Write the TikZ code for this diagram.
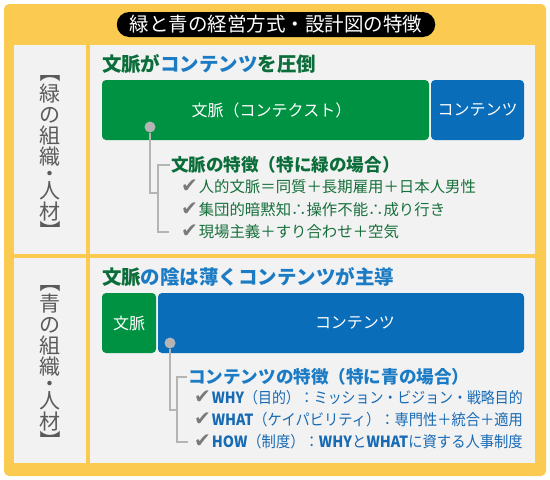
\documentclass[tikz,border=0pt]{standalone}
\usepackage{fontspec}
\usepackage{graphicx}
\setmainfont{Noto Sans CJK JP}
\newfontfamily\symfont{DejaVu Sans}
\usetikzlibrary{positioning,calc}
\definecolor{frameyellow}{HTML}{FACB50}
\definecolor{panelgray}{HTML}{F2F2F2}
\definecolor{boxgreen}{HTML}{009243}
\definecolor{boxblue}{HTML}{0A6DBA}
\definecolor{headgreen}{HTML}{0B6E3A}
\definecolor{headblue}{HTML}{1B7BC4}
\definecolor{itemgreen}{HTML}{17703C}
\definecolor{itemblue}{HTML}{176AB4}
\definecolor{linegray}{HTML}{B4B4B4}
\definecolor{labgray}{HTML}{5A5A5A}
\definecolor{checkgray}{HTML}{7A7A7A}
\newcommand{\fs}[1]{\fontsize{#1}{#1}\selectfont}
\newcommand{\chk}{{\color{checkgray}\symfont\fs{20}✔}\hspace{1pt}}
\newcommand{\fitw}[2]{\resizebox{#1}{\height}{#2}}

\begin{document}
\begin{tikzpicture}[
  x=1pt, y=-1pt,
  every node/.style={inner sep=0pt, outer sep=0pt},
  panel/.style={fill=panelgray},
  colbox/.style={rounded corners=4pt, anchor=north west, minimum height=60pt, text=white, font=\fs{16}},
  head/.style={anchor=west, font=\bfseries\fs{19.5}},
  subhead/.style={anchor=west, font=\bfseries\fs{17.6}},
  item/.style={anchor=west, font=\fs{15.4}},
  vlabel/.style={align=center, text=labgray, font=\fontsize{21}{21}\selectfont},
  vbrack/.style={text=labgray, font=\fs{21}, rotate=-90},
  dot/.style={circle, fill=linegray, minimum size=11pt},
  link/.style={draw=linegray, line width=2.6pt}
]
\useasboundingbox (0,0) rectangle (550,480);
\fill[frameyellow, rounded corners=5pt] (4,4) rectangle (546,476);
\node[fill=black, rounded corners=12.5pt, minimum height=25pt, inner xsep=13pt, text=white, font=\fs{19.5}] (title) at (276,24.5) {緑と青の経営方式・設計図の特徴};

% green organisation
\fill[panel] (14,45) rectangle (86,254);
\fill[panel] (90,45) rectangle (535,254);
\node[vlabel] (lab1) at (50,153) {緑\\の\\組\\織\\[-4pt]・\\[-4pt]人\\材};
\node[vbrack] (lab1t) at (50,72) {【};
\node[vbrack] (lab1b) at (50,231) {】};
\node[head, text=headgreen] (h1) at (102,64) {文脈が\textcolor{headblue}{コンテンツ}を圧倒};
\node[colbox, fill=boxgreen, minimum width=327pt] (ctx1) at (102,80) {\hspace*{12pt}文脈（コンテクスト）};
\node[colbox, fill=boxblue, minimum width=93pt] (cnt1) at (431,80) {コンテンツ};
\node[dot] (dot1) at (150,127) {};
\node[subhead, text=headgreen] (sub1) at (171,165) {文脈の特徴（特に緑の場合）};
\node[item, text=itemgreen] (b11) at (181,187) {\chk 人的文脈＝同質＋長期雇用＋日本人男性};
\node[item, text=itemgreen] (b12) at (181,210) {\chk 集団的暗黙知∴操作不能∴成り行き};
\node[item, text=itemgreen] (b13) at (181,232) {\chk 現場主義＋すり合わせ＋空気};
\coordinate (br1) at (158,193);
\draw[link] ($(sub1.west)+(-1,0)$) -| (br1) |- ($(b13.west)+(-12,0)$);
\draw[link] (dot1.south) |- (br1);

% blue organisation
\fill[panel] (14,258) rectangle (86,463);
\fill[panel] (90,258) rectangle (535,463);
\node[vlabel] (lab2) at (50,363) {青\\の\\組\\織\\[-4pt]・\\[-4pt]人\\材};
\node[vbrack] (lab2t) at (50,282) {【};
\node[vbrack] (lab2b) at (50,441) {】};
\node[head, text=headblue] (h2) at (102,277) {\textcolor{headgreen}{文脈}の陰は薄くコンテンツが主導};
\node[colbox, fill=boxgreen, minimum width=54pt] (ctx2) at (102,293) {文脈};
\node[colbox, fill=boxblue, minimum width=366pt] (cnt2) at (158,293) {\hspace*{28pt}コンテンツ};
\node[dot] (dot2) at (170,343) {};
\node[subhead, text=headblue] (sub2) at (188,377) {コンテンツの特徴（特に青の場合）};
\node[item, text=itemblue] (b21) at (194,398) {\chk\fitw{311pt}{\textbf{WHY}（目的）：ミッション・ビジョン・戦略目的}};
\node[item, text=itemblue] (b22) at (194,420) {\chk\fitw{311pt}{\textbf{WHAT}（ケイパビリティ）：専門性＋統合＋適用}};
\node[item, text=itemblue] (b23) at (194,442) {\chk\fitw{311pt}{\textbf{HOW}（制度）：\textbf{WHY}と\textbf{WHAT}に資する人事制度}};
\coordinate (br2) at (177,410);
\draw[link] ($(sub2.west)+(-1,0)$) -| (br2) |- ($(b23.west)+(-6,0)$);
\draw[link] (dot2.south) |- (br2);
\end{tikzpicture}
\end{document}
